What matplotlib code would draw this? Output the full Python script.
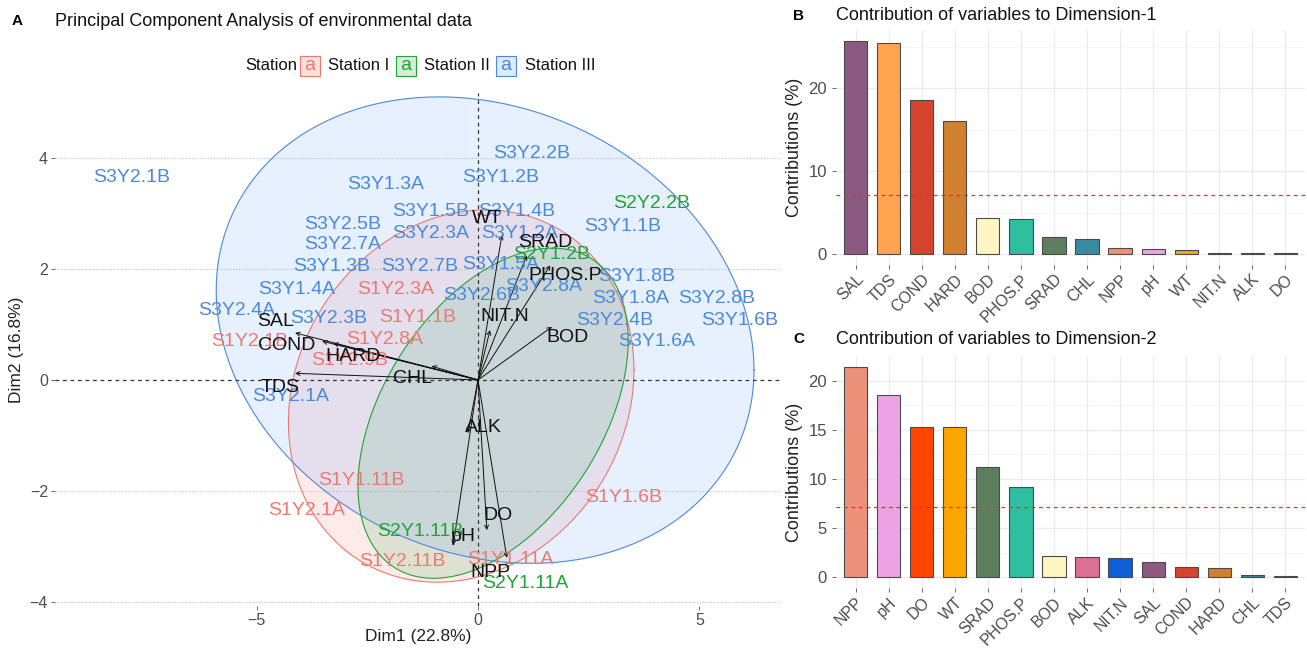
import matplotlib
matplotlib.use("Agg")
import matplotlib.pyplot as plt
import numpy as np
from matplotlib.patches import Rectangle

plt.rcParams['font.family'] = ['Liberation Sans', 'DejaVu Sans']

# ---------------- Panel A data ----------------
stations = ['Station I', 'Station II', 'Station III']
station_colors = ['#EC7A70', '#1FA535', '#4A8AD8']
fill_colors = ['#F8766D', '#33B050', '#619CFF']

ind_names = [
    'S3Y2.1B', 'S3Y2.2B', 'S3Y1.2B', 'S3Y1.3A', 'S3Y1.5B', 'S3Y1.4B', 'S3Y2.5B',
    'S3Y2.3A', 'S3Y1.2A', 'S3Y2.7A', 'S3Y1.1B', 'S3Y1.3B', 'S3Y2.7B', 'S3Y1.5A',
    'S3Y1.8B', 'S3Y1.4A', 'S3Y2.6B', 'S3Y2.8A', 'S3Y1.8A', 'S3Y2.8B', 'S3Y2.4A',
    'S3Y2.3B', 'S3Y2.4B', 'S3Y1.6B', 'S3Y1.6A', 'S3Y2.1A',
    'S1Y2.3A', 'S1Y1.1B', 'S1Y2.8A', 'S1Y2.1B', 'S1Y2.9B', 'S1Y1.11B', 'S1Y2.1A',
    'S1Y1.6B', 'S1Y2.11B', 'S1Y1.11A',
    'S2Y2.2B', 'S2Y1.2B', 'S2Y1.11B', 'S2Y1.11A']
ind_x = [-7.83, 1.21, 0.50, -2.08, -1.08, 0.87, -3.05,
         -1.08, 0.95, -3.05, 3.27, -3.30, -1.32, 0.50,
         3.58, -4.09, 0.08, 1.47, 3.45, 5.39, -5.45,
         -3.38, 3.09, 5.91, 4.03, -4.24,
         -1.87, -1.37, -2.10, -5.15, -2.89, -2.63, -3.88,
         3.28, -1.72, 0.72,
         3.92, 1.66, -1.31, 1.06]
ind_y = [3.66, 4.08, 3.66, 3.52, 3.05, 3.05, 2.80,
         2.65, 2.64, 2.44, 2.77, 2.05, 2.05, 2.08,
         1.86, 1.64, 1.52, 1.68, 1.47, 1.47, 1.26,
         1.11, 1.08, 1.08, 0.69, -0.30,
         1.64, 1.12, 0.73, 0.69, 0.36, -1.81, -2.36,
         -2.12, -3.28, -3.24,
         3.18, 2.26, -2.74, -3.67]
ind_group = [2] * 26 + [0] * 10 + [1] * 4

# concentration ellipses (centre, spread, correlation) per station
ell_cx = [-0.38, 0.34, 0.16]
ell_cy = [-0.29, -0.60, 0.90]
ell_sx = [3.90, 3.05, 6.07]
ell_sy = [3.36, 2.98, 4.21]
ell_rho = [0.14, 0.44, -0.171]

var_names = ['SAL', 'TDS', 'COND', 'HARD', 'BOD', 'PHOS.P', 'SRAD', 'CHL',
             'NPP', 'pH', 'WT', 'NIT.N', 'ALK', 'DO']
var_x = [-4.13, -4.13, -3.52, -3.27, 1.67, 1.63, 1.10, -1.05,
         0.65, -0.56, 0.54, 0.27, -0.23, 0.20]
var_y = [0.85, 0.12, 0.70, 0.66, 0.96, 2.07, 2.25, 0.25,
         -3.21, -2.98, 2.62, 0.90, -0.96, -2.71]
var_lx = [-4.56, -4.47, -4.31, -2.82, 2.03, 1.96, 1.51, -1.47,
          0.27, -0.34, 0.20, 0.61, 0.11, 0.45]
var_ly = [1.05, -0.13, 0.63, 0.42, 0.76, 1.88, 2.49, 0.02,
          -3.47, -2.83, 2.92, 1.14, -0.85, -2.44]

# ---------------- Panels B / C data ----------------
dim1_vars = ['SAL', 'TDS', 'COND', 'HARD', 'BOD', 'PHOS.P', 'SRAD', 'CHL',
             'NPP', 'pH', 'WT', 'NIT.N', 'ALK', 'DO']
dim1_contrib = [25.7, 25.5, 18.6, 16.1, 4.3, 4.2, 2.05, 1.8,
                0.7, 0.6, 0.5, 0.15, 0.1, 0.1]
dim2_vars = ['NPP', 'pH', 'DO', 'WT', 'SRAD', 'PHOS.P', 'BOD', 'ALK',
             'NIT.N', 'SAL', 'COND', 'HARD', 'CHL', 'TDS']
dim2_contrib = [21.4, 18.5, 15.27, 15.27, 11.2, 9.2, 2.2, 2.1,
                2.0, 1.6, 1.07, 0.97, 0.25, 0.1]
ref_line = 7.14

var_colors = {
    'SAL': '#8C5A80', 'TDS': '#FFA54F', 'COND': '#D6432F', 'HARD': '#D2802F',
    'BOD': '#FFF6C4', 'PHOS.P': '#2EBEA0', 'SRAD': '#5E7F5E', 'CHL': '#3A8BA0',
    'NPP': '#EE917A', 'pH': '#ECA2E4', 'WT': '#FFA500', 'NIT.N': '#0E5ED6',
    'ALK': '#DE6F95', 'DO': '#FF4500'}

# ---------------- Figure ----------------
fig = plt.figure(figsize=(13.07, 6.49), dpi=100)

W, H = 1307.0, 649.0
def fx(px):
    return px / W
def fy(py):
    return 1 - py / H

# ---- Panel A ----
axA = fig.add_axes([fx(55), fy(606), fx(781) - fx(55), fy(93) - fy(606)])
axA.set_xlim(-9.55, 6.84)
axA.set_ylim(-4.08, 5.18)

t = np.linspace(0, 2 * np.pi, 300)
for g in range(3):
    ex = ell_cx[g] + ell_sx[g] * np.cos(t)
    ey = ell_cy[g] + ell_sy[g] * (ell_rho[g] * np.cos(t) + np.sqrt(1 - ell_rho[g] ** 2) * np.sin(t))
    axA.fill(ex, ey, color=fill_colors[g], alpha=0.15, lw=0, zorder=1)
    axA.plot(ex, ey, color=station_colors[g], lw=0.8, zorder=2)

for yv in [-4, -2, 2, 4]:
    axA.axhline(yv, color='#C4C4C4', lw=0.8, ls=(0, (1, 1.5)), zorder=0)
axA.axhline(0, color='#333333', lw=0.9, ls=(0, (3, 3)), zorder=3)
axA.axvline(0, color='#333333', lw=0.9, ls=(0, (3, 3)), zorder=3)

for i, n in enumerate(var_names):
    axA.annotate('', xy=(var_x[i], var_y[i]), xytext=(0, 0),
                 arrowprops=dict(arrowstyle='->', color='#111111', lw=0.7,
                                 mutation_scale=7, shrinkA=0, shrinkB=0),
                 zorder=4)

for i, n in enumerate(ind_names):
    axA.text(ind_x[i], ind_y[i], n, color=station_colors[ind_group[i]],
             fontsize=14, ha='center', va='center', zorder=5)
for i, n in enumerate(var_names):
    axA.text(var_lx[i], var_ly[i], n, color='#111111', fontsize=14,
             ha='center', va='center', zorder=6)

for s in axA.spines.values():
    s.set_visible(False)
axA.set_xticks([-5, 0, 5])
axA.set_yticks([-4, -2, 0, 2, 4])
axA.tick_params(axis='both', colors='#555555', labelcolor='#4D4D4D',
                labelsize=11.5, length=3, width=0.6, pad=2)
axA.set_xlabel('Dim1 (22.8%)', fontsize=12.5, color='#222222', labelpad=1)
axA.set_ylabel('Dim2 (16.8%)', fontsize=12.5, color='#222222', labelpad=4)

fig.text(fx(12), fy(21), 'A', fontsize=11, fontweight='bold', va='center')
fig.text(fx(55), fy(21), 'Principal Component Analysis of environmental data',
         fontsize=13, va='center', color='#111111')

# legend
ly = fy(66)
fig.text(fx(245), ly, 'Station', fontsize=12, va='center', color='#111111')
key_x = [300, 396, 496]
lab_x = [328, 424, 525]
for g in range(3):
    bw, bh = 20, 20
    fig.patches.append(Rectangle((fx(key_x[g]), fy(66 + bh / 2)), bw / W, bh / H,
                                 transform=fig.transFigure, facecolor=fill_colors[g],
                                 alpha=0.22, edgecolor='none'))
    fig.patches.append(Rectangle((fx(key_x[g]), fy(66 + bh / 2)), bw / W, bh / H,
                                 transform=fig.transFigure, facecolor='none',
                                 edgecolor=station_colors[g], lw=0.8))
    fig.text(fx(key_x[g] + bw / 2), ly, 'a', fontsize=14, ha='center', va='center',
             color=station_colors[g])
    fig.text(fx(lab_x[g]), ly, stations[g], fontsize=12, va='center', color='#111111')

# ---- Panels B, C ----
def bar_panel(ax, names, vals, ymax_lim, ymin_lim, ticks, minor):
    x = np.arange(1, len(names) + 1)
    ax.set_xlim(0.4, len(names) + 0.6)
    ax.set_ylim(ymin_lim, ymax_lim)
    for xv in x:
        ax.axvline(xv, color='#EBEBEB', lw=0.9, zorder=0)
    for yv in ticks:
        ax.axhline(yv, color='#EBEBEB', lw=0.9, zorder=0)
    for yv in minor:
        ax.axhline(yv, color='#F2F2F2', lw=0.5, zorder=0)
    ax.bar(x, vals, width=0.7, color=[var_colors[n] for n in names],
           edgecolor='#4A4A4A', linewidth=0.8, zorder=3)
    ax.axhline(ref_line, color='#E03030', lw=0.9, ls=(0, (3, 3)), zorder=4)
    for s in ax.spines.values():
        s.set_visible(False)
    ax.set_xticks(x)
    ax.set_xticklabels(names, rotation=45, ha='right', va='top',
                       rotation_mode='anchor')
    ax.set_yticks(ticks)
    ax.tick_params(axis='y', colors='#555555', labelcolor='#4D4D4D',
                   labelsize=12, length=3, width=0.6)
    ax.tick_params(axis='x', colors='#555555', labelcolor='#4D4D4D',
                   labelsize=11.5, length=3, width=0.6, pad=2)
    ax.set_ylabel('Contributions (%)', fontsize=13, color='#222222', labelpad=4)

axB = fig.add_axes([fx(836), fy(264.6), fx(1305) - fx(836), fy(30.3) - fy(264.6)])
bar_panel(axB, dim1_vars, dim1_contrib, 26.98, -1.28, [0, 10, 20], [5, 15, 25])
fig.text(fx(793), fy(16), 'B', fontsize=11, fontweight='bold', va='center')
fig.text(fx(836), fy(16), 'Contribution of variables to Dimension-1',
         fontsize=13, va='center', color='#111111')

axC = fig.add_axes([fx(836), fy(588), fx(1305) - fx(836), fy(356.2) - fy(588)])
bar_panel(axC, dim2_vars, dim2_contrib, 22.47, -1.07, [0, 5, 10, 15, 20],
          [2.5, 7.5, 12.5, 17.5])
fig.text(fx(793), fy(339), 'C', fontsize=11, fontweight='bold', va='center')
fig.text(fx(836), fy(339), 'Contribution of variables to Dimension-2',
         fontsize=13, va='center', color='#111111')

fig.savefig('out.png', dpi=100)
